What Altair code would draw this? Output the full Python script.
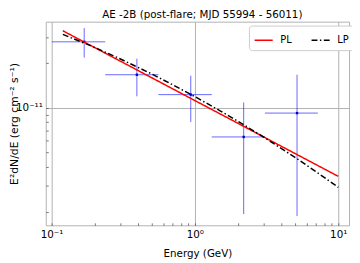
import altair as alt
import pandas as pd

# Data points (Energy in GeV, E^2 dN/dE in erg cm^-2 s^-1)
energy = [0.169, 0.394, 0.936, 2.19, 5.16]
energy_lo = [0.1007, 0.237, 0.557, 1.311, 3.08]
energy_hi = [0.237, 0.557, 1.311, 3.08, 7.21]
flux = [2.78e-11, 1.67e-11, 1.227e-11, 6.37e-12, 9.22e-12]
flux_lo = [2.18e-11, 1.195e-11, 8.04e-12, 1.93e-12, 1.87e-12]
flux_hi = [3.44e-11, 2.14e-11, 1.646e-11, 1.086e-11, 1.67e-11]

# Model curves
pl_energy = [0.12, 10.0]
pl_flux = [3.30e-11, 3.46e-12]
lp_energy = [0.12, 0.2, 0.3, 0.5, 0.7, 1.0, 1.5, 2.0, 3.0, 5.0, 7.0, 10.0]
lp_flux = [3.12e-11, 2.55e-11, 2.14e-11, 1.69e-11, 1.43e-11, 1.19e-11,
           9.55e-12, 8.12e-12, 6.38e-12, 4.64e-12, 3.72e-12, 2.92e-12]

models = ["PL", "LP"]
x_major = [0.1, 1, 10]
x_minor = [0.2, 0.3, 0.4, 0.5, 0.6, 0.7, 0.8, 0.9, 2, 3, 4, 5, 6, 7, 8, 9]
y_major = [1e-11]
y_minor = [2e-12, 3e-12, 4e-12, 5e-12, 6e-12, 7e-12, 8e-12, 9e-12, 2e-11, 3e-11]

pts = pd.DataFrame({"e": energy, "elo": energy_lo, "ehi": energy_hi,
                    "f": flux, "flo": flux_lo, "fhi": flux_hi})
lines = pd.DataFrame({
    "model": ["PL"] * len(pl_energy) + ["LP"] * len(lp_energy),
    "e": pl_energy + lp_energy,
    "f": pl_flux + lp_flux,
})

FONT = "DejaVu Sans"
W, H = 309, 207.5

xs = alt.Scale(type="log", domain=[0.0912, 11.9], nice=False)
ys = alt.Scale(type="log", domain=[1.62e-12, 3.8e-11], nice=False)

xaxis = alt.Axis(
    values=x_major + x_minor,
    labelExpr="datum.value == 0.1 ? '10⁻¹' : datum.value == 1 ? '10⁰' : datum.value == 10 ? '10¹' : ''",
    gridOpacity={"condition": {"test": "datum.value == 0.1 || datum.value == 1 || datum.value == 10", "value": 1}, "value": 0},
    gridColor="#b0b0b0", gridWidth=1,
    domain=False, offset=-2.5, tickSize=2.5, tickColor="#555555", tickWidth=0.8,
    labelPadding=4, labelFont=FONT, labelFontSize=10.5, labelColor="black",
    labelFlush=False, labelOverlap=False,
    title="Energy (GeV)", titleFont=FONT, titleFontSize=10.5, titleFontWeight="normal",
    titleColor="black", titleX=W / 2, titleY=34, titleBaseline="alphabetic",
)
yaxis = alt.Axis(
    values=y_major + y_minor,
    labelExpr="datum.value == 1e-11 ? '10⁻¹¹' : ''",
    gridOpacity={"condition": {"test": "datum.value == 1e-11", "value": 1}, "value": 0},
    gridColor="#b0b0b0", gridWidth=1,
    domain=False, offset=-2.5, tickSize=2.5, tickColor="#555555", tickWidth=0.8,
    labelPadding=3.5, labelFont=FONT, labelFontSize=10.5, labelColor="black",
    labelFlush=False, labelOverlap=False, labelBaseline="middle",
    title="E²dN/dE (erg cm⁻² s⁻¹)", titleFont=FONT, titleFontSize=11, titleFontWeight="normal",
    titleColor="black", titleX=-29, titleY=H / 2, titleBaseline="bottom", titleAngle=270,
)


def X(field):
    return alt.X(f"{field}:Q", scale=xs, axis=xaxis)


def Y(field):
    return alt.Y(f"{field}:Q", scale=ys, axis=yaxis)


errx = alt.Chart(pts).mark_rule(color="blue", opacity=0.6, strokeWidth=1).encode(
    x=X("elo"), x2="ehi", y=Y("f"))
erry = alt.Chart(pts).mark_rule(color="blue", opacity=0.6, strokeWidth=1).encode(
    x=X("e"), y=Y("flo"), y2="fhi")
ctr = alt.Chart(pts).mark_square(size=6, color="#0000cc", opacity=1).encode(
    x=X("e"), y=Y("f"))

leg = alt.Legend(
    title=None, orient="none", legendX=207, legendY=4, direction="horizontal", columns=2,
    symbolType="stroke", symbolSize=340, symbolStrokeWidth=1.5,
    labelFont=FONT, labelFontSize=10, labelColor="black", labelOffset=7,
    columnPadding=16, padding=5, fillColor="white", strokeColor="#cccccc",
    cornerRadius=3,
)
curves = alt.Chart(lines).mark_line(strokeWidth=1.5, clip=True).encode(
    x=X("e"), y=Y("f"),
    color=alt.Color("model:N", scale=alt.Scale(domain=models, range=["red", "black"]), legend=leg),
    strokeDash=alt.StrokeDash("model:N", scale=alt.Scale(domain=models, range=[[1, 0], [6, 2.5, 1.5, 2.5]]), legend=leg),
)

chart = alt.layer(errx, erry, ctr, curves).properties(
    width=W, height=H,
    title=alt.TitleParams("AE -2B (post-flare; MJD 55994 - 56011)", font=FONT, fontSize=10.5,
                          fontWeight="normal", color="black", anchor="middle", frame="group",
                          offset=1, dx=5),
    autosize=alt.AutoSizeParams(type="none"),
    padding={"left": 38.5, "top": 11.5, "right": 3, "bottom": 38},
).configure_view(stroke="#b0b0b0", strokeWidth=1)

chart.save("out.html", embed_options={"renderer": "svg", "actions": False})
